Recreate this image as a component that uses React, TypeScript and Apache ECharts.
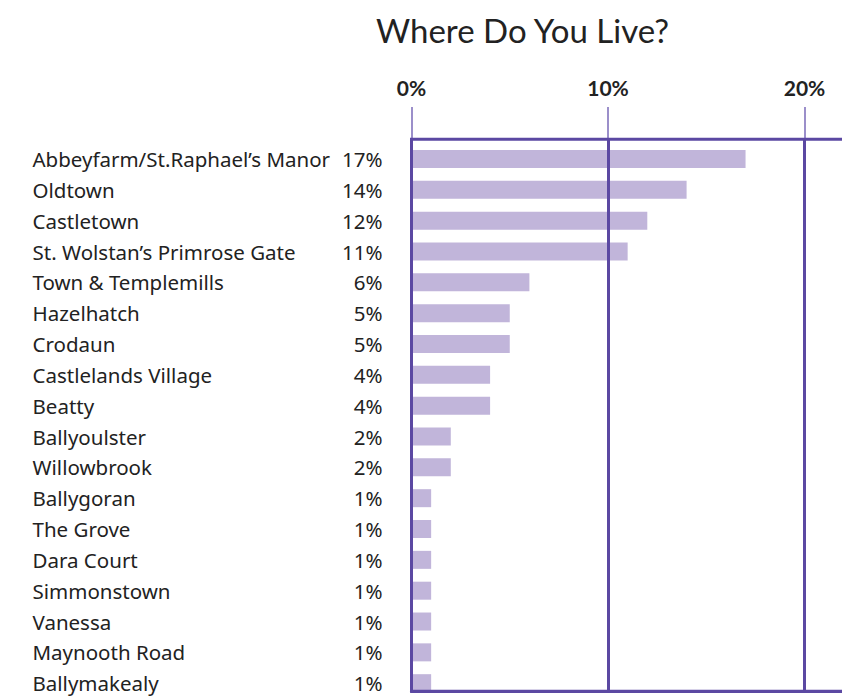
import React, { useEffect, useRef } from "react";
import * as echarts from "echarts";

const titleText = "Where Do You Live?";
const areas = [
  "Abbeyfarm/St.Raphael’s Manor",
  "Oldtown",
  "Castletown",
  "St. Wolstan’s Primrose Gate",
  "Town & Templemills",
  "Hazelhatch",
  "Crodaun",
  "Castlelands Village",
  "Beatty",
  "Ballyoulster",
  "Willowbrook",
  "Ballygoran",
  "The Grove",
  "Dara Court",
  "Simmonstown",
  "Vanessa",
  "Maynooth Road",
  "Ballymakealy",
];
const shares = [17, 14, 12, 11, 6, 5, 5, 4, 4, 2, 2, 1, 1, 1, 1, 1, 1, 1];
const axisMin = 0;
const axisMax = 30;
const axisStep = 10;

const FONT = "Lato";
const LABEL_FONT = "Noto Sans";
const PURPLE = "#5b48a2";
const TICK = "#7a6ab8";
const BAR = "#c1b5da";
const TEXT = "#222222";

export default function App() {
  const ref = useRef<HTMLDivElement>(null);
  useEffect(() => {
    if (!ref.current) return;
    const chart = echarts.init(ref.current, null, { renderer: "svg" });
    const left = 411.5;
    const width = 589.5;
    chart.setOption({
      animation: false,
      backgroundColor: "#ffffff",
      textStyle: { fontFamily: FONT },
      title: {
        text: titleText,
        left: 371,
        top: 8,
        textStyle: { fontFamily: FONT, fontSize: 33, fontWeight: "normal", color: TEXT },
      },
      grid: [
        {
          left,
          width,
          top: 139.3,
          height: 552,
          show: true,
          borderColor: PURPLE,
          borderWidth: 3,
          z: 5,
          outerBoundsMode: "none",
          containLabel: false,
        },
        { left, width, top: 143.6, height: 555, outerBoundsMode: "none", containLabel: false },
        { left, width, top: 107, height: 32.3, outerBoundsMode: "none", containLabel: false },
      ],
      xAxis: [
        {
          gridIndex: 0,
          type: "value",
          position: "top",
          min: axisMin,
          max: axisMax,
          interval: axisStep,
          z: 5,
          axisLine: { show: true, lineStyle: { color: PURPLE, width: 3 } },
          axisTick: { show: false },
          axisLabel: {
            margin: 41,
            showMaxLabel: false,
            formatter: "{value}%",
            fontFamily: FONT,
            fontSize: 21,
            fontWeight: "bold",
            color: TEXT,
          },
          splitLine: { show: true, lineStyle: { color: PURPLE, width: 3 } },
        },
        {
          gridIndex: 1,
          type: "value",
          min: axisMin,
          max: axisMax,
          show: false,
        },
        {
          gridIndex: 2,
          type: "value",
          min: axisMin,
          max: axisMax,
          interval: axisStep,
          axisLine: { show: false },
          axisTick: { show: false },
          axisLabel: { show: false },
          splitLine: { show: true, lineStyle: { color: TICK, width: 1.5 } },
        },
      ],
      yAxis: [
        { gridIndex: 0, type: "value", show: false },
        {
          gridIndex: 1,
          type: "category",
          inverse: true,
          data: areas,
          axisLine: { show: false },
          axisTick: { show: false },
          splitLine: { show: false },
          axisLabel: {
            margin: 29,
            formatter: (v: string, i: number) => `{n|${v}}{p|${shares[i]}%}`,
            rich: {
              n: { width: 300, align: "left", fontFamily: LABEL_FONT, fontSize: 20.5, color: TEXT },
              p: { width: 50, align: "right", fontFamily: LABEL_FONT, fontSize: 20.5, color: TEXT },
            },
          },
        },
        { gridIndex: 2, type: "value", show: false },
      ],
      series: [
        {
          type: "bar",
          xAxisIndex: 1,
          yAxisIndex: 1,
          data: shares,
          barWidth: 18,
          itemStyle: { color: BAR },
          z: 2,
        },
      ],
    });
    return () => chart.dispose();
  }, []);
  return (
    <div
      ref={ref}
      style={{ position: "fixed", left: 0, top: 0, width: 842, height: 697, background: "#fff" }}
    />
  );
}
